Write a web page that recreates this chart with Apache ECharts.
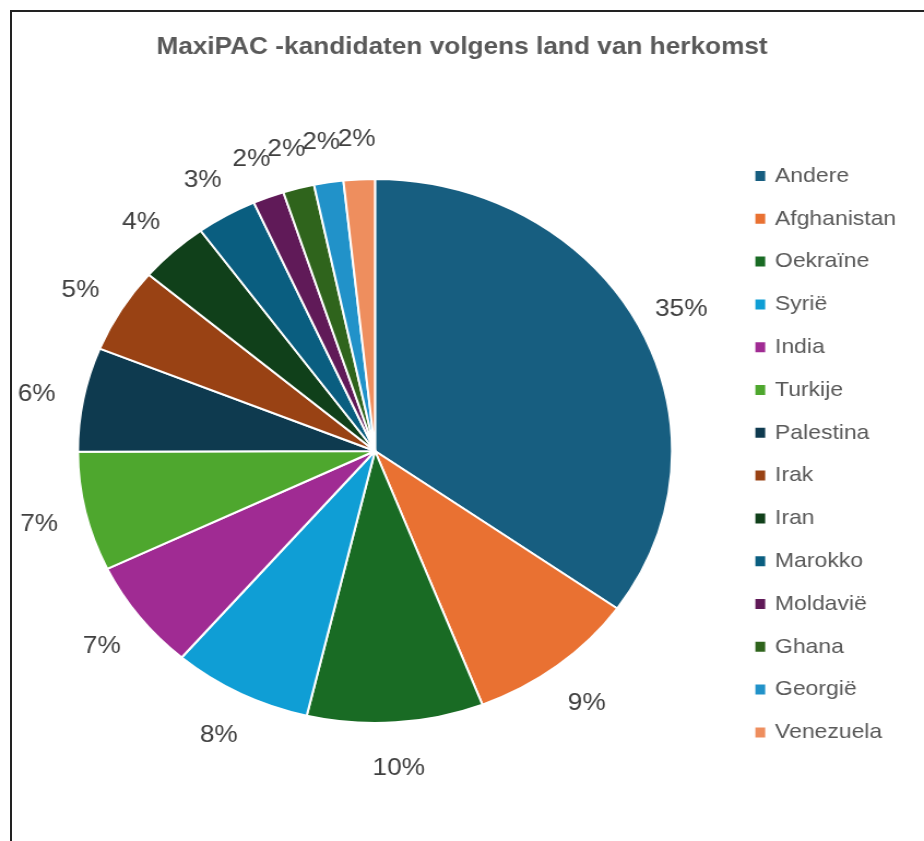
<!DOCTYPE html>
<html><head><meta charset="utf-8">
<script src="https://cdn.jsdelivr.net/npm/echarts@6/dist/echarts.min.js"></script>
<style>
html,body{margin:0;padding:0;background:#fff;width:924px;height:841px;overflow:hidden;}
#frame{position:absolute;left:10px;top:10px;width:914px;height:831px;border-left:2px solid #222;border-top:2px solid #222;box-sizing:border-box;}
#chart{position:absolute;left:0;top:0;width:846px;height:841px;transform:scaleX(1.0922);transform-origin:0 0;}
</style></head><body>
<div id="frame"></div>
<div id="chart"></div>
<script>
const titleText = 'MaxiPAC -kandidaten volgens land van herkomst';
const categories = ['Andere','Afghanistan','Oekraïne','Syrië','India','Turkije','Palestina','Irak','Iran','Marokko','Moldavië','Ghana','Georgië','Venezuela'];
const values = [34.9, 9.3, 9.6, 7.6, 6.6, 7.1, 6.2, 5.1, 3.8, 3.3, 1.7, 1.7, 1.6, 1.7];
const colors = ['#175E80','#E97132','#196B24','#0F9ED5','#A02B93','#4EA72E','#0E3A4F','#994214','#10401A','#0A5E80','#601A58','#2F641C','#2192C9','#EE8E5E'];

const SX = 1.0922;
const cx = 375 / SX, cy = 451, R = 272, labelR = R * 1.16;
const total = values.reduce((a, b) => a + b, 0);
const mids = [];
let acc = 0;
values.forEach(v => { mids.push((acc + v / 2) / total * 2 * Math.PI); acc += v; });

const chart = echarts.init(document.getElementById('chart'), null, {renderer: 'canvas'});
const font = '"Liberation Sans", Arial, sans-serif';
chart.setOption({
  animation: false,
  color: colors,
  title: {
    text: titleText,
    left: 'center',
    top: 35,
    padding: 0,
    textStyle: {fontFamily: font, fontSize: 24, fontWeight: 'bold', color: '#595959', lineHeight: 24}
  },
  legend: {
    orient: 'vertical',
    left: 689.6,
    top: 165.5,
    padding: 0,
    itemWidth: 11,
    itemHeight: 12,
    itemGap: 21.8,
    icon: 'rect',
    data: categories,
    textStyle: {fontFamily: font, fontSize: 21, color: '#595959', lineHeight: 21, padding: [0, 0, 0, 3]}
  },
  series: [{
    type: 'pie',
    center: [cx, cy],
    radius: R,
    startAngle: 90,
    clockwise: true,
    avoidLabelOverlap: false,
    itemStyle: {borderColor: '#ffffff', borderWidth: 2},
    label: {
      show: true,
      position: 'outside',
      formatter: function (p) { return Math.round(p.value / total * 100) + '%'; },
      fontFamily: font,
      fontSize: 24,
      color: '#404040'
    },
    labelLine: {show: false},
    labelLayout: function (p) {
      const a = mids[p.dataIndex];
      return {x: cx + labelR * Math.sin(a), y: cy + 3 - labelR * Math.cos(a), align: 'center', verticalAlign: 'middle'};
    },
    data: categories.map((c, i) => ({name: c, value: values[i]}))
  }]
});
</script>
</body></html>
